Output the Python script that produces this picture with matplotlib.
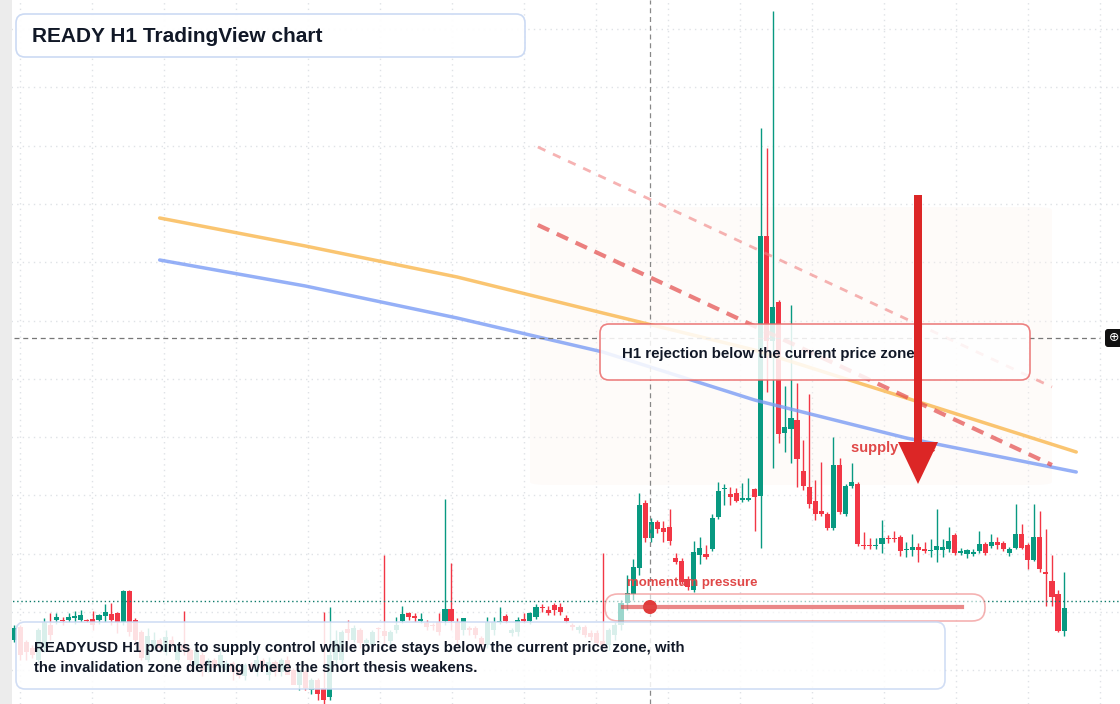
import matplotlib
matplotlib.use("Agg")
import matplotlib.pyplot as plt
import numpy as np
from matplotlib.patches import FancyBboxPatch, Rectangle, Circle

plt.rcParams['font.family'] = ['Liberation Sans', 'DejaVu Sans']

# Candle values (screen-scale price levels; axis inverted)
opens = [640,627,642,648,660,648,625,620,620,620,618,620,620,619,620,616,614,613,622,591,
         620,632,660,648,640,652,640,660,645,650,665,655,670,660,668,670,663,670,676,665,
         672,660,675,662,672,660,670,685,672,690,680,688,697,660,660,629,640,630,643,645,
         628,631,641,630,621,613,616,621,623,625,622,621,609,622,630,628,628,638,645,630,
         622,616,633,632,619,621,617,607,610,605,607,618,625,630,627,633,633,641,645,635,
         625,603,594,568,503,538,522,528,527,558,561,579,590,555,554,549,517,489,494,493,
         500,500,489,496,236,341,302,433,429,420,471,487,501,511,514,528,465,514,486,484,
         545,545,546,544,538,538,537,550,550,547,549,551,550,550,549,535,553,554,554,551,
         544,546,542,543,553,548,534,545,560,537,572,581,594,631]
highs = [625,625,640,645,628,618,613,613,617,613,611,610,619,611,614,604,603,612,590,590,
         618,630,628,632,638,630,636,643,611,648,648,652,658,658,650,660,661,668,663,662,
         655,658,657,660,658,656,668,668,670,678,678,612,607,630,630,620,625,628,638,630,
         627,555,630,617,606,612,613,613,620,623,613,499,563,618,618,626,626,636,617,617,
         607,614,628,617,613,612,604,604,606,603,603,615,623,625,625,630,630,553,628,622,
         600,575,559,493,500,518,520,521,509,553,558,576,541,537,545,514,482,484,487,488,
         483,478,488,128,148,11,300,386,305,383,440,394,480,462,512,437,458,484,463,482,
         532,538,538,520,535,531,535,542,534,543,542,539,509,539,527,533,548,549,549,531,
         542,534,537,541,547,504,524,543,504,511,529,555,590,572]
lows = [642,660,660,658,662,652,640,624,625,622,624,622,622,630,624,622,625,633,625,636,
        645,660,662,650,652,655,650,662,655,668,668,676,672,670,672,672,680,678,680,672,
        676,670,680,676,676,664,678,690,690,694,700,704,700,665,664,640,642,648,646,650,
        640,645,645,633,623,620,622,623,630,630,635,625,630,645,635,635,638,650,648,635,
        624,623,636,636,623,624,619,612,615,615,615,623,630,633,637,640,645,648,650,640,
        630,610,600,575,542,542,533,542,545,564,584,590,592,564,559,551,519,505,505,502,
        502,501,531,548,392,468,443,452,463,487,490,508,520,516,530,530,514,516,488,546,
        549,549,549,553,543,542,556,557,556,562,553,557,562,557,552,555,555,558,556,553,
        555,548,549,551,556,549,549,569,561,572,606,606,632,636]
closes = [628,655,652,655,630,622,635,617,621,617,616,615,621,625,615,612,620,622,591,632,
          640,658,636,640,648,637,645,645,650,660,650,670,660,668,655,663,672,676,665,670,
          660,668,662,672,660,675,685,670,688,680,694,700,655,640,632,633,628,643,640,632,
          629,636,632,625,614,617,618,619,627,626,632,609,621,640,618,630,635,645,622,622,
          621,621,630,620,621,613,607,608,613,610,612,621,627,627,635,637,643,645,630,625,
          603,593,567,505,538,522,529,532,541,562,582,587,552,548,557,518,491,488,497,501,
          498,498,497,236,341,307,434,427,418,459,486,504,514,514,528,465,512,486,482,544,
          546,546,545,538,539,539,551,549,547,550,551,550,546,547,541,553,551,550,552,544,
          553,542,545,549,549,534,548,560,537,569,574,597,631,608]

# Moving averages (sampled at candle indices)
ma_idx = [24, 48, 73, 97, 122, 147, 175]
ma_orange = [218, 246, 277, 313, 350, 398, 452]
ma_blue = [260, 286, 318, 352, 400, 438, 472]
# Resistance trend lines
trend_idx = [86.3, 171]
trend_main = [225, 465]
trend_light = [147, 387]

W, H = 1120, 704
fig = plt.figure(figsize=(11.2, 7.04), dpi=100)
ax = fig.add_axes([0, 0, 1, 1])
n = len(opens)
step = 6.07
x0 = 14
ax.set_xlim(-x0 / step, (W - x0) / step)
ax.set_ylim(H, 0)
ax.axis('off')

for gx in np.arange(20, W, 72):
    ax.axvline((gx - x0) / step, color='#dfe2e6', lw=1, ls=(0, (1, 3)), zorder=0)
for gy in np.arange(29, H, 58.3):
    ax.axhline(gy, color='#dfe2e6', lw=1, ls=(0, (1, 3)), zorder=0)

ax.add_patch(FancyBboxPatch(((530 - x0) / step, 207), (1052 - 530) / step, 278,
                            boxstyle="round,pad=0,rounding_size=3", fc='#fdf3ee', ec='none',
                            alpha=0.3, zorder=0.5))

green, red = '#089981', '#f23645'
for i in range(n):
    o, h, l, c = opens[i], highs[i], lows[i], closes[i]
    col = green if c <= o else red
    ax.vlines(i, h, l, color=col, lw=1, zorder=2)
    top, bot = min(o, c), max(o, c)
    ax.add_patch(Rectangle((i - 0.42, top), 0.84, max(bot - top, 1.2), fc=col, ec='none', zorder=3))

xs = np.array(ma_idx)
ax.plot(xs, ma_orange, color='#f9b74e', lw=2.5, alpha=0.8, zorder=4, solid_capstyle='round')
ax.plot(xs, ma_blue, color='#7b9cf5', lw=2.5, alpha=0.8, zorder=4, solid_capstyle='round')
ax.plot(trend_idx, trend_main, color='#e34a4a', lw=3, alpha=0.7, ls=(0, (3, 2)), zorder=4)
ax.plot(trend_idx, trend_light, color='#f08080', lw=2, alpha=0.6, ls=(0, (3, 3)), zorder=4)

ax.axhline(601, color='#0b7a6a', lw=1, ls=(0, (1, 2)), zorder=5)
ax.axhline(338, xmin=14 / W, xmax=1100 / W, color='#777777', lw=0.9, ls=(0, (4, 3)), zorder=5)
ax.axvline((650 - x0) / step, color='#888888', lw=0.9, ls=(0, (4, 3)), zorder=5)

ov = fig.add_axes([0, 0, 1, 1], zorder=5)
ov.set_xlim(0, W); ov.set_ylim(H, 0); ov.axis('off'); ov.patch.set_alpha(0)
ov.add_patch(Rectangle((0, 0), 12, H, fc='#ececec', ec='none'))

def box(x, y, w, h, ec, alpha=0.88, lw=1.2):
    ov.add_patch(FancyBboxPatch((x, y), w, h, boxstyle="round,pad=0,rounding_size=9",
                                fc='white', ec=ec, lw=lw, alpha=alpha))

box(16, 14, 509, 43, '#c9d8f3', alpha=0.95)
ov.text(32, 36, 'READY H1 TradingView chart', fontsize=15, fontweight='bold',
        color='#111827', va='center')

box(600, 324, 430, 56, '#ea6b6b', alpha=0.85)
ov.text(622, 354, 'H1 rejection below the current price zone', fontsize=10.8, fontweight='bold',
        color='#111827', va='center')

ov.text(851, 448, 'supply zone', fontsize=10.5, fontweight='bold', color='#e04848', va='center', zorder=1)
ov.add_patch(Rectangle((914, 195), 8, 250, fc='#dc2626', ec='none', zorder=3))
ov.add_patch(plt.Polygon([[898, 442], [938, 442], [918, 484]], fc='#dc2626', ec='none', zorder=3))

ov.text(627, 583, 'momentum pressure', fontsize=9.5, fontweight='bold', color='#e04848', va='center')
ov.add_patch(FancyBboxPatch((605, 594), 380, 27, boxstyle="round,pad=0,rounding_size=13",
                            fc='white', ec='#ef7f7f', lw=1.2, alpha=0.6))
ov.plot([623, 962], [607, 607], color='#e04848', lw=3, alpha=0.65)
ov.add_patch(Circle((650, 607), 7, fc='#e03b3b', ec='none'))

box(16, 622, 929, 67, '#c9d8f3', alpha=0.85)
ov.text(34, 648, 'READYUSD H1 points to supply control while price stays below the current price zone, with',
        fontsize=10.8, fontweight='bold', color='#111827', va='center')
ov.text(34, 668, 'the invalidation zone defining where the short thesis weakens.',
        fontsize=10.8, fontweight='bold', color='#111827', va='center')

ov.add_patch(FancyBboxPatch((1105, 329), 18, 18, boxstyle="round,pad=0,rounding_size=3",
                            fc='#111111', ec='none'))
ov.text(1114, 338, '⊕', color='white', fontsize=9, ha='center', va='center')

fig.savefig('out.png', dpi=100)
